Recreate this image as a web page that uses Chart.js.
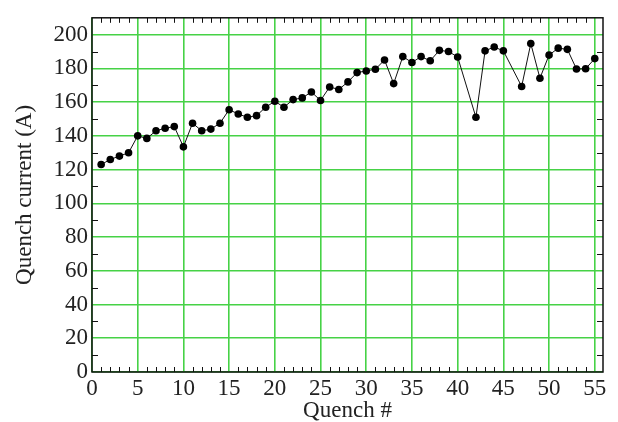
<!DOCTYPE html>
<html>
<head>
<meta charset="utf-8">
<script src="https://cdn.jsdelivr.net/npm/chart.js@4.4.0/dist/chart.umd.min.js"></script>
<style>
  html, body { margin: 0; padding: 0; background: #fff; }
  #wrap { width: 618px; height: 422px; }
</style>
</head>
<body>
<div id="wrap"><canvas id="grafico" width="618" height="422"></canvas></div>
<script>
// quench numbers (41 and 46 not recorded)
const quenchNo = [
  1, 2, 3, 4, 5, 6, 7, 8, 9, 10,
  11, 12, 13, 14, 15, 16, 17, 18, 19, 20,
  21, 22, 23, 24, 25, 26, 27, 28, 29, 30,
  31, 32, 33, 34, 35, 36, 37, 38, 39, 40,
  42, 43, 44, 45, 47, 48, 49, 50, 51, 52, 53, 54, 55
];
const quenchCurrent = [
  123, 126, 128, 130, 140, 138.5, 143, 144.5, 145.5, 133.5,
  147.5, 143, 144, 147.5, 155.5, 153, 151, 152, 157, 160.5,
  157, 161.5, 162.5, 166, 161, 169, 167.5, 172, 177.5, 178.5,
  179.5, 185, 171, 187, 183.5, 187, 184.5, 190.7, 190, 186.8,
  151, 190.4, 192.7, 190.4, 169.3, 194.7, 174.2, 187.9, 192, 191.3, 179.6, 179.8, 185.8
];
const xTicks = [0, 5, 10, 15, 20, 25, 30, 35, 40, 45, 50, 55];
const yTicks = [0, 20, 40, 60, 80, 100, 120, 140, 160, 180, 200];
const xMinorTicks = [];
for (let i = 1; i <= 55; i++) if (i % 5 !== 0) xMinorTicks.push(i);
const yMinorTicks = [10, 30, 50, 70, 90, 110, 130, 150, 170, 190];

const serif = '"Liberation Serif", "Times New Roman", Times, serif';
const verde = "rgb(70, 210, 70)";

// frame + inward ticks like the original plot
const molduraPlugin = {
  id: "moldura",
  afterDatasetsDraw(chart) {
    const { ctx, chartArea: a, scales } = chart;
    ctx.save();
    ctx.strokeStyle = "#111";
    ctx.lineWidth = 1;
    ctx.beginPath();
    xMinorTicks.forEach(v => {
      const px = Math.round(scales.x.getPixelForValue(v)) + 0.5;
      ctx.moveTo(px, a.bottom); ctx.lineTo(px, a.bottom - 5);
      ctx.moveTo(px, a.top); ctx.lineTo(px, a.top + 5);
    });
    yMinorTicks.forEach(v => {
      const py = Math.round(scales.y.getPixelForValue(v)) + 0.5;
      ctx.moveTo(a.left, py); ctx.lineTo(a.left + 6, py);
      ctx.moveTo(a.right, py); ctx.lineTo(a.right - 6, py);
    });
    ctx.stroke();
    ctx.lineWidth = 1.5;
    ctx.strokeRect(a.left, a.top, a.right - a.left, a.bottom - a.top);
    ctx.restore();
  }
};

function desenhar() {
  const ctx = document.getElementById("grafico").getContext("2d");
  new Chart(ctx, {
    type: "line",
    data: {
      datasets: [{
        label: "Quench current",
        data: quenchNo.map((q, i) => ({ x: q, y: quenchCurrent[i] })),
        borderColor: "#111",
        borderWidth: 1,
        backgroundColor: "#000",
        pointBackgroundColor: "#000",
        pointBorderColor: "#000",
        pointRadius: 3.8,
        pointBorderWidth: 0,
        tension: 0,
        fill: false
      }]
    },
    options: {
      responsive: false,
      animation: false,
      events: [],
      layout: { padding: { top: 12, right: 15, left: 0, bottom: 0 } },
      plugins: { legend: { display: false }, tooltip: { enabled: false } },
      scales: {
        x: {
          type: "linear",
          min: 0,
          max: 55.9,
          afterBuildTicks: s => { s.ticks = xTicks.map(v => ({ value: v })); },
          afterFit: s => { s.height = 50; },
          grid: { color: verde, lineWidth: 1.6, drawTicks: false },
          border: { display: false },
          ticks: {
            includeBounds: false,
            autoSkip: false,
            maxRotation: 0,
            padding: 3,
            color: "#222",
            font: { family: serif, size: 23 }
          },
          title: {
            display: true,
            text: "Quench #",
            color: "#222",
            font: { family: serif, size: 23 },
            padding: { top: 0, bottom: -3 }
          }
        },
        y: {
          type: "linear",
          min: 0,
          max: 210,
          afterBuildTicks: s => { s.ticks = yTicks.map(v => ({ value: v })); },
          afterFit: s => { s.width = 92; },
          grid: { color: verde, lineWidth: 1.6, drawTicks: false },
          border: { display: false },
          ticks: {
            includeBounds: false,
            autoSkip: false,
            padding: 4,
            color: "#222",
            font: { family: serif, size: 23 }
          },
          title: {
            display: true,
            text: "Quench current (A)",
            color: "#222",
            font: { family: serif, size: 23 },
            padding: { top: 11, bottom: 0 }
          }
        }
      }
    },
    plugins: [molduraPlugin]
  });
}

document.fonts.load('23px "Liberation Serif"').then(desenhar, desenhar);
</script>
</body>
</html>
